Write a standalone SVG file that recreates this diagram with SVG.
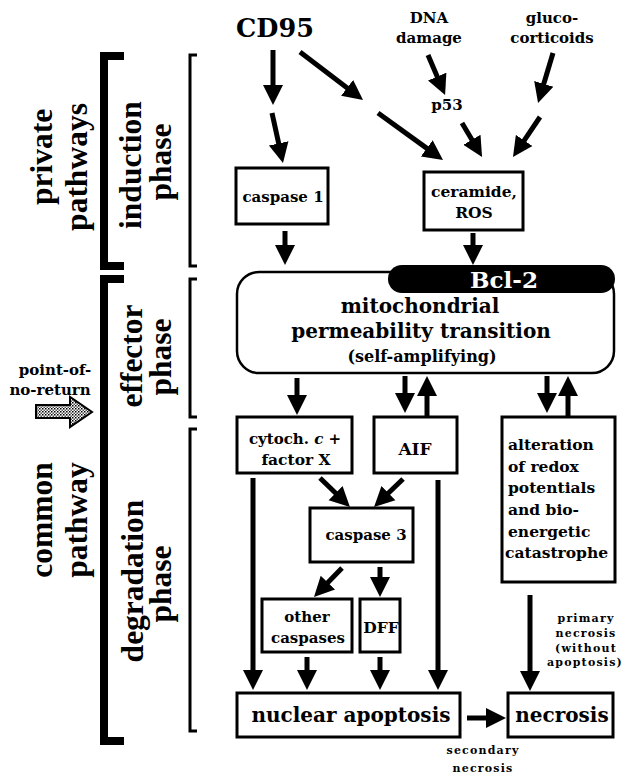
<svg xmlns="http://www.w3.org/2000/svg" width="623" height="776" viewBox="0 0 623 776">
<style>
.lbl{font-family:"Liberation Serif","Times New Roman",serif;font-weight:bold;font-size:31.5px;fill:#000;text-anchor:middle}
.t{font-family:"DejaVu Serif","Liberation Serif",serif;font-weight:bold;fill:#000;text-anchor:middle}
.box{fill:#fff;stroke:#000;stroke-width:3}
.br{fill:none;stroke:#000;stroke-width:8}
.tb{fill:none;stroke:#000;stroke-width:3}
.a{stroke:#000;stroke-width:5;fill:none;marker-end:url(#ah)}
.small{font-family:"DejaVu Serif","Liberation Serif",serif;font-weight:bold;font-size:11px;letter-spacing:1.2px;fill:#000;text-anchor:middle}
</style>
<defs>
<marker id="ah" markerUnits="userSpaceOnUse" markerWidth="22" markerHeight="22" viewBox="0 -11 22 22" refX="1" refY="0" orient="auto">
<path d="M0,-10 L20,0 L0,10 z" fill="#000"/>
</marker>
<pattern id="dots" patternUnits="userSpaceOnUse" width="3" height="3">
<rect width="3" height="3" fill="#fff"/>
<rect width="1.5" height="1.5" fill="#000"/>
<rect x="1.5" y="1.5" width="1.5" height="1.5" fill="#555"/>
</pattern>
</defs>
<rect width="623" height="776" fill="#fff"/>

<g id="side-labels">
<path class="br" d="M124,56 H104 V266 H124"/>
<path class="br" d="M124,279 H104 V741 H124"/>
<path class="tb" d="M197,55 H190 V266 H197"/>
<path class="tb" d="M197,279 H190 V417 H197"/>
<path class="tb" d="M197,429 H190 V731 H197"/>
<text class="lbl" transform="translate(52,157) rotate(-90)">private</text>
<text class="lbl" transform="translate(87,167) rotate(-90)">pathways</text>
<text class="lbl" transform="translate(141,165) rotate(-90)">induction</text>
<text class="lbl" transform="translate(171,162) rotate(-90)">phase</text>
<text class="lbl" transform="translate(142,356) rotate(-90)">effector</text>
<text class="lbl" transform="translate(171,357) rotate(-90)">phase</text>
<text class="lbl" transform="translate(52,520) rotate(-90)">common</text>
<text class="lbl" transform="translate(87,520) rotate(-90)">pathway</text>
<text class="lbl" transform="translate(143,581) rotate(-90)">degradation</text>
<text class="lbl" transform="translate(171,584) rotate(-90)">phase</text>
</g>

<g id="point-of-no-return">
<text class="t" font-size="15" x="55" y="375">point-of-</text>
<text class="t" font-size="15" x="50" y="395">no-return</text>
<polygon points="36,405 70,405 70,397 92,412 70,427 70,418 36,418" fill="url(#dots)" stroke="#000" stroke-width="2"/>
</g>

<g id="connectors">
<line class="a" x1="273" y1="50" x2="273" y2="86"/>
<line class="a" x1="272" y1="113" x2="278.9" y2="144.4"/>
<line class="a" x1="300" y1="52" x2="347.9" y2="88.5"/>
<line class="a" x1="378" y1="113" x2="427.6" y2="148.9"/>
<line class="a" x1="428" y1="55" x2="437.6" y2="77.5"/>
<line class="a" x1="462" y1="123" x2="472.4" y2="140.6"/>
<line class="a" x1="553" y1="53" x2="543.5" y2="84.8"/>
<line class="a" x1="540" y1="117" x2="523.6" y2="141.3"/>
<line class="a" x1="473" y1="233" x2="473" y2="246"/>
<line class="a" x1="285" y1="231" x2="285" y2="246"/>
<line class="a" x1="297" y1="378" x2="297" y2="396"/>
<line class="a" x1="405" y1="376" x2="405" y2="394"/>
<line class="a" x1="427" y1="417" x2="427" y2="395"/>
<line class="a" x1="547" y1="376" x2="547" y2="394"/>
<line class="a" x1="568" y1="417" x2="568" y2="395"/>
<line class="a" x1="320" y1="478" x2="336.3" y2="493.8"/>
<line class="a" x1="403" y1="479" x2="387.7" y2="493.8"/>
<line class="a" x1="253" y1="478" x2="253" y2="671"/>
<line class="a" x1="438" y1="480" x2="438" y2="671"/>
<line class="a" x1="342" y1="568" x2="327.2" y2="583.3"/>
<line class="a" x1="380" y1="567" x2="380" y2="578"/>
<line class="a" x1="307" y1="657" x2="307" y2="671"/>
<line class="a" x1="380" y1="657" x2="380" y2="671"/>
<line class="a" x1="467" y1="718" x2="487" y2="718"/>
<line class="a" x1="530" y1="595" x2="530" y2="672"/>
</g>

<g id="cd95"><text class="t" font-size="25.5" x="275" y="37">CD95</text></g>
<g id="dna-damage">
<text class="t" font-size="15" x="429" y="23">DNA</text>
<text class="t" font-size="15" x="429" y="43">damage</text>
</g>
<g id="glucocorticoids">
<text class="t" font-size="15" x="552" y="23">gluco-</text>
<text class="t" font-size="15" x="552" y="43">corticoids</text>
</g>
<g id="p53"><text class="t" font-size="15" x="447" y="110">p53</text></g>

<g id="caspase1">
<rect class="box" x="236" y="168" width="92" height="56"/>
<text class="t" font-size="15" x="283" y="202">caspase 1</text>
</g>
<g id="ceramide">
<rect class="box" x="424" y="172" width="99" height="58"/>
<text class="t" font-size="15.5" x="474" y="197">ceramide,</text>
<text class="t" font-size="15.5" x="474" y="218">ROS</text>
</g>

<g id="mpt">
<rect x="237" y="272" width="377" height="101" rx="22" fill="#fff" stroke="#000" stroke-width="2.5"/>
<rect x="388" y="265" width="227" height="28" rx="14" fill="#000"/>
<text class="t" font-size="22" x="504" y="288" fill="#fff" style="fill:#fff" textLength="68" lengthAdjust="spacingAndGlyphs">Bcl-2</text>
<text class="t" font-size="20" x="420" y="313">mitochondrial</text>
<text class="t" font-size="20" x="421" y="338">permeability transition</text>
<text class="t" font-size="16" x="422" y="362">(self-amplifying)</text>
</g>

<g id="cytoch">
<rect class="box" x="237" y="417" width="115" height="56"/>
<text class="t" font-size="15" x="295" y="444">cytoch. <tspan font-style="italic">c</tspan> +</text>
<text class="t" font-size="15.5" x="296" y="465">factor X</text>
</g>
<g id="aif">
<rect class="box" x="374" y="417" width="83" height="56"/>
<text class="t" font-size="17" x="415" y="455">AIF</text>
</g>
<g id="alteration">
<rect class="box" x="502" y="417" width="113" height="165"/>
<g font-size="15.5" style="text-anchor:start">
<text class="t" x="508" y="450" style="text-anchor:start">alteration</text>
<text class="t" x="508" y="472" style="text-anchor:start">of redox</text>
<text class="t" x="508" y="493" style="text-anchor:start">potentials</text>
<text class="t" x="508" y="515" style="text-anchor:start">and bio-</text>
<text class="t" x="508" y="537" style="text-anchor:start">energetic</text>
<text class="t" x="505" y="558" style="text-anchor:start">catastrophe</text>
</g>
</g>
<g id="caspase3">
<rect class="box" x="310" y="508" width="103" height="54"/>
<text class="t" font-size="15" x="366" y="540">caspase 3</text>
</g>
<g id="other-caspases">
<rect class="box" x="262" y="599" width="90" height="53"/>
<text class="t" font-size="15" x="307" y="622">other</text>
<text class="t" font-size="15" x="308" y="643">caspases</text>
</g>
<g id="dff">
<rect class="box" x="360" y="599" width="40" height="53"/>
<text class="t" font-size="15.5" x="381" y="633">DFF</text>
</g>
<g id="nuclear-apoptosis">
<rect class="box" x="237" y="693" width="223" height="44"/>
<text class="t" font-size="20" x="351" y="722">nuclear apoptosis</text>
</g>
<g id="necrosis">
<rect class="box" x="508" y="693" width="105" height="44"/>
<text class="t" font-size="20" x="562" y="722">necrosis</text>
</g>

<g id="labels">
<text class="small" x="586" y="622">primary</text>
<text class="small" x="586" y="637">necrosis</text>
<text class="small" x="586" y="652">(without</text>
<text class="small" x="585" y="666">apoptosis)</text>
<text class="small" x="483" y="754">secondary</text>
<text class="small" x="483" y="772">necrosis</text>
</g>
</svg>
